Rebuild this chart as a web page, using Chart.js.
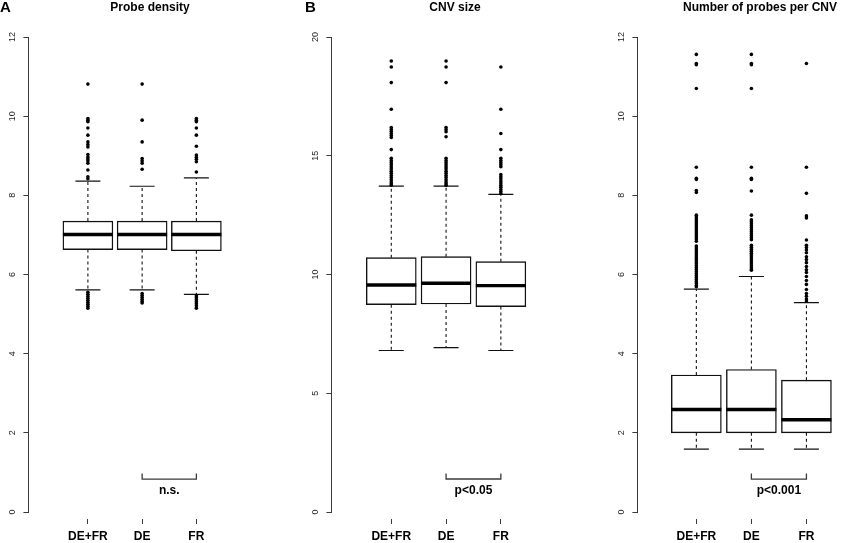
<!DOCTYPE html>
<html><head><meta charset="utf-8">
<script src="https://cdn.jsdelivr.net/npm/chart.js@4.4.0/dist/chart.umd.min.js"></script>
<style>
html,body{margin:0;padding:0;background:#fff;overflow:hidden;width:851px;height:543px;position:relative;}
canvas{position:absolute;top:0;}
</style></head><body>
<canvas id="cA" width="300" height="543" style="left:0px;width:300px;height:543px"></canvas>
<canvas id="cB" width="304" height="543" style="left:303px;width:304px;height:543px"></canvas>
<canvas id="cC" width="302" height="543" style="left:609px;width:302px;height:543px"></canvas>
<script>
// ---------- data ----------
const categories = ['DE+FR', 'DE', 'FR'];

// Panel A: Probe density
const yTicksA = [0, 2, 4, 6, 8, 10, 12];
const q1A  = [6.63, 6.63, 6.60];
const medA = [7.01, 7.01, 7.01];
const q3A  = [7.35, 7.35, 7.35];
const loA  = [5.61, 5.61, 5.50];
const hiA  = [8.36, 8.23, 8.44];
const outA_DEFR = [10.81, 9.94, 9.90, 9.86, 9.70, 9.52, 9.35, 9.28, 9.22, 9.03, 8.97, 8.92, 8.87, 8.81, 8.64, 8.47, 8.42,
                   5.55, 5.50, 5.45, 5.40, 5.35, 5.30, 5.25, 5.20, 5.15];
const outA_DE   = [10.81, 9.90, 9.35, 8.93, 8.87, 8.81, 8.66, 5.52, 5.47, 5.42, 5.37, 5.32, 5.28];
const outA_FR   = [9.94, 9.90, 9.86, 9.70, 9.52, 9.24, 9.02, 8.96, 8.91, 8.85, 8.59,
                   5.46, 5.41, 5.36, 5.31, 5.26, 5.21, 5.15];
const bracketA = [0.97, 0.83];
const labelA = 'n.s.';

// Panel B: CNV size
const yTicksB = [0, 5, 10, 15, 20];
const q1B  = [8.73, 8.76, 8.65];
const medB = [9.56, 9.63, 9.53];
const q3B  = [10.71, 10.75, 10.54];
const loB  = [6.80, 6.92, 6.80];
const hiB  = [13.72, 13.72, 13.37];
const outB_DEFR = [18.99, 18.74, 18.08, 16.96, 16.19, 16.10, 16.02, 15.94, 15.85, 15.77, 15.26,
                   14.89, 14.80, 14.71, 14.62, 14.53, 14.44, 14.35, 14.26, 14.17, 14.08, 13.99, 13.90, 13.82, 13.76];
const outB_DE   = [18.99, 18.74, 18.08, 16.19, 16.10, 16.01, 15.80,
                   14.89, 14.80, 14.71, 14.62, 14.53, 14.44, 14.35, 14.26, 14.17, 14.08, 13.99, 13.90, 13.82, 13.76];
const outB_FR   = [18.74, 16.96, 15.94, 15.26, 14.89, 14.80, 14.71, 14.62, 14.54,
                   14.21, 14.12, 14.03, 13.94, 13.85, 13.76, 13.67, 13.58, 13.49, 13.41];
const bracketB = [1.62, 1.39];
const labelB = 'p<0.05';

// Panel C: Number of probes per CNV
const yTicksC = [0, 2, 4, 6, 8, 10, 12];
const q1C  = [2.00, 2.00, 2.00];
const medC = [2.59, 2.59, 2.33];
const q3C  = [3.46, 3.60, 3.33];
const loC  = [1.59, 1.59, 1.59];
const hiC  = [5.63, 5.95, 5.29];
const outC_DEFR = [11.56, 11.33, 11.30, 10.70, 8.71, 8.43, 8.40, 8.12, 8.07, 7.50, 7.45, 7.40, 7.35, 7.30, 7.25, 7.20,
                   7.15, 7.10, 7.05, 7.00, 6.95, 6.90, 6.84, 6.72, 6.67, 6.62, 6.57, 6.52, 6.47, 6.42, 6.37, 6.32,
                   6.27, 6.22, 6.17, 6.12, 6.07, 6.02, 5.97, 5.92, 5.87, 5.82, 5.77, 5.72, 5.69];
const outC_DE   = [11.56, 11.33, 11.30, 10.70, 8.71, 8.43, 8.40, 8.11, 7.50, 7.38, 7.33, 7.28, 7.23, 7.18, 7.13,
                   7.08, 7.03, 6.98, 6.93, 6.88, 6.74, 6.69, 6.64, 6.59, 6.54, 6.49, 6.44, 6.39, 6.34, 6.29,
                   6.24, 6.19, 6.14, 6.11];
const outC_FR   = [11.33, 8.71, 8.05, 7.48, 7.43, 6.87, 6.74, 6.68, 6.62, 6.55, 6.45, 6.38, 6.30, 6.20, 6.12,
                   6.05, 5.95, 5.85, 5.75, 5.62, 5.52, 5.45, 5.38, 5.33];
const bracketC = [0.97, 0.83];
const labelC = 'p<0.001';

// ---------- drawing ----------
const FONT = '"Liberation Sans", Arial, Helvetica, sans-serif';
const INK = '#111';
const AXIS = '#3a3a3a';

const annotPlugin = {
  id: 'annot',
  afterDraw(chart, args, opts) {
    const ctx = chart.ctx;
    const xs = chart.scales.x, ys = chart.scales.y;
    ctx.save();
    ctx.fillStyle = '#000';
    ctx.textBaseline = 'middle';
    // panel letter
    if (opts.letter) {
      ctx.font = 'bold 15px ' + FONT;
      ctx.textAlign = 'left';
      ctx.fillText(opts.letter, opts.letterX, 8);
    }
    // rotated y tick labels (R style, reading upward)
    ctx.font = '9px ' + FONT;
    ctx.fillStyle = '#222';
    ctx.textAlign = 'center';
    ys.ticks.forEach(t => {
      const py = ys.getPixelForValue(t.value);
      ctx.save();
      ctx.translate(ys.right - 16, py);
      ctx.rotate(-Math.PI / 2);
      ctx.fillText(String(t.value), 0, 0);
      ctx.restore();
    });
    // bracket label
    ctx.fillStyle = '#000';
    ctx.font = 'bold 12px ' + FONT;
    ctx.fillText(opts.label, xs.getPixelForValue(2.5), ys.getPixelForValue(opts.bracket[1]) + 12);
    ctx.restore();
  }
};

function makePanel(id, p) {
  const boxes = categories.map((c, i) => ({x: i + 1, y: [p.q1[i], p.q3[i]]}));
  const medians = categories.map((c, i) => ({x: i + 1, y: p.med[i]}));
  const caps = [];
  const whiskers = [];
  categories.forEach((c, i) => {
    caps.push({x: i + 1, y: p.lo[i]}, {x: i + 1, y: p.hi[i]});
    whiskers.push({x: i + 1, y: p.q3[i]}, {x: i + 1, y: p.hi[i]}, {x: i + 1, y: null},
                  {x: i + 1, y: p.q1[i]}, {x: i + 1, y: p.lo[i]}, {x: i + 1, y: null});
  });
  const outliers = [];
  p.out.forEach((arr, i) => arr.forEach(v => outliers.push({x: i + 1, y: v})));
  const br = [{x: 2, y: p.bracket[0]}, {x: 2, y: p.bracket[1]}, {x: 3, y: p.bracket[1]}, {x: 3, y: p.bracket[0]}];

  return new Chart(document.getElementById(id), {
    type: 'bar',
    data: {
      datasets: [
        {type: 'scatter', data: outliers, order: 0, pointStyle: 'circle', pointRadius: 1.8,
         pointBackgroundColor: '#000', pointBorderWidth: 0},
        {type: 'scatter', data: medians, order: 1, pointStyle: 'line', pointRadius: 25,
         pointBorderColor: '#000', pointBorderWidth: 3.4},
        {type: 'scatter', data: caps, order: 2, pointStyle: 'line', pointRadius: 12.5,
         pointBorderColor: INK, pointBorderWidth: 1.2},
        {type: 'line', data: whiskers, order: 3, borderColor: INK, borderWidth: 1.1, borderDash: [3, 3],
         pointRadius: 0, spanGaps: false, fill: false},
        {type: 'bar', data: boxes, order: 4, backgroundColor: '#fff', borderColor: INK, borderWidth: 1.4,
         borderSkipped: false, barThickness: 50},
        {type: 'line', data: br, order: 5, borderColor: AXIS, borderWidth: 1.3, pointRadius: 0, fill: false}
      ]
    },
    options: {
      responsive: false,
      animation: false,
      events: [],
      devicePixelRatio: 1,
      layout: {padding: {left: 0, right: 0, top: 0, bottom: 0}},
      plugins: {
        legend: {display: false},
        tooltip: {enabled: false},
        title: {display: true, text: p.title, color: '#000', font: {family: FONT, size: 12, weight: 'bold'},
                padding: {top: 0, bottom: 22.6}},
        annot: {letter: p.letter, letterX: p.letterX, label: p.label, bracket: p.bracket}
      },
      scales: {
        x: {
          type: 'linear', min: p.xmin, max: p.xmax, offset: false,
          afterFit: s => { s.height = 31; s.paddingLeft = 0; s.paddingRight = 0; },
          afterBuildTicks: s => { s.ticks = categories.map((c, i) => ({value: i + 1})); },
          ticks: {callback: v => categories[v - 1], color: '#000', padding: 5.5, maxRotation: 0, autoSkip: false,
                  font: {family: FONT, size: 12, weight: 'bold'}},
          grid: {drawOnChartArea: false, drawTicks: true, tickLength: 12, tickBorderDash: [0, 7, 5, 100],
                 color: AXIS, offset: false},
          border: {display: false}
        },
        y: {
          type: 'linear', min: p.yTicks[0], max: p.yTicks[p.yTicks.length - 1],
          afterFit: s => { s.width = 22; s.paddingTop = 0; s.paddingBottom = 0; },
          afterBuildTicks: s => { s.ticks = p.yTicks.map(v => ({value: v})); },
          ticks: {display: false},
          grid: {drawOnChartArea: false, drawTicks: true, tickLength: 5, color: AXIS},
          border: {display: true, color: AXIS, width: 1}
        }
      }
    },
    plugins: [annotPlugin]
  });
}

makePanel('cA', {title: 'Probe density', letter: 'A', letterX: 0, yTicks: yTicksA,
  q1: q1A, med: medA, q3: q3A, lo: loA, hi: hiA, out: [outA_DEFR, outA_DE, outA_FR],
  bracket: bracketA, label: labelA, xmin: -0.097, xmax: 4.387});
makePanel('cB', {title: 'CNV size', letter: 'B', letterX: 2, yTicks: yTicksB,
  q1: q1B, med: medB, q3: q3B, lo: loB, hi: hiB, out: [outB_DEFR, outB_DE, outB_FR],
  bracket: bracketB, label: labelB, xmin: -0.093, xmax: 4.419});
makePanel('cC', {title: 'Number of probes per CNV', letter: '', letterX: 0, yTicks: yTicksC,
  q1: q1C, med: medC, q3: q3C, lo: loC, hi: hiC, out: [outC_DEFR, outC_DE, outC_FR],
  bracket: bracketC, label: labelC, xmin: -0.071, xmax: 4.384});
</script>
</body></html>
